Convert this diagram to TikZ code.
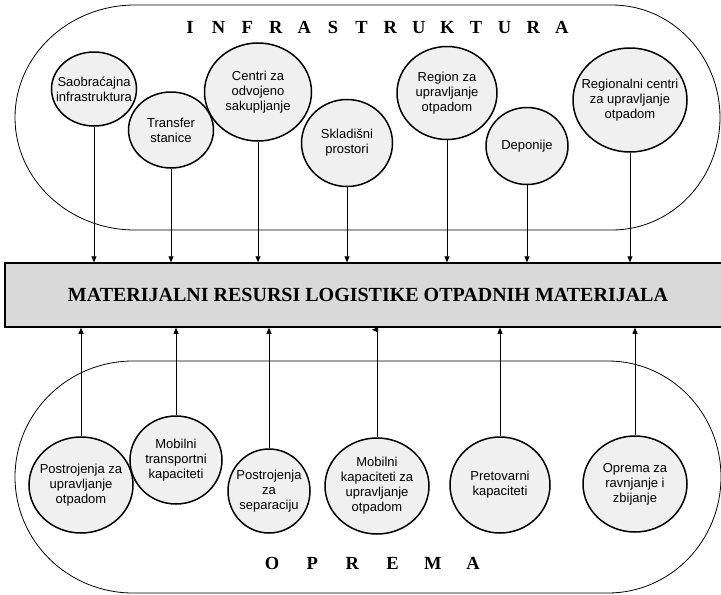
\documentclass[tikz,border=0pt]{standalone}
\usepackage{fontspec}
\setmainfont{Liberation Serif}
\newfontfamily\arialfont{Liberation Sans}
\usetikzlibrary{shapes.geometric, arrows.meta, positioning}
\definecolor{bubblefill}{RGB}{240, 240, 240}
\definecolor{boxfill}{RGB}{217, 217, 217}

\begin{document}
\begin{tikzpicture}[x=1pt, y=-1pt,
    bubble/.style={ellipse, draw, line width=1.5pt, fill=bubblefill, inner sep=0pt},
    lbl/.style={align=center, inner sep=0pt, font=\arialfont\fontsize{13}{15}\selectfont},
    feed/.style={-{Triangle[length=6pt, width=5pt]}, line width=0.8pt},
    spaced/.style={anchor=base, inner sep=0pt, font=\bfseries\fontsize{18.5}{20}\selectfont}]
    \useasboundingbox (0,0) rectangle (721,595);

    % Enclosures
    \draw[line width=0.8pt] (135,5) -- (612,5)
        arc[start angle=-90, end angle=90, x radius=108, y radius=112.5]
        -- (135,230) arc[start angle=90, end angle=270, x radius=120, y radius=112.5] -- cycle;
    \draw[line width=0.8pt] (133,361) -- (608,361)
        arc[start angle=-90, end angle=90, x radius=113, y radius=116]
        -- (133,593) arc[start angle=90, end angle=270, x radius=118, y radius=116] -- cycle;

    % Titles
    \foreach \l [count=\i from 0] in {I,N,F,R,A,S,T,R,U,K,T,U,R,A}
        \node[spaced] (inf\i) at (190+28.6*\i, 33) {\l};
    \foreach \l [count=\i from 0] in {O,P,R,E,M,A}
        \node[spaced] (opr\i) at (272+40.2*\i, 569) {\l};

    % Central box
    \node[draw, line width=1.5pt, fill=boxfill, minimum width=726pt, minimum height=64pt,
        font=\bfseries\fontsize{20}{22}\selectfont] (mat) at (368,295)
        {MATERIJALNI RESURSI LOGISTIKE OTPADNIH MATERIJALA};

    % Infrastructure
    \node[bubble, minimum width=85pt, minimum height=74pt,
        label={[lbl]center:{Saobraćajna\\infrastruktura}}] (t1) at (94,89) {};
    \node[bubble, minimum width=85pt, minimum height=76pt,
        label={[lbl]center:{Transfer\\stanice}}] (t2) at (171,130) {};
    \node[bubble, minimum width=107pt, minimum height=98pt,
        label={[lbl]center:{Centri za\\odvojeno\\sakupljanje}}] (t3) at (258,92) {};
    \node[bubble, minimum width=91pt, minimum height=87pt,
        label={[lbl]center:{Skladišni\\prostori}}] (t4) at (347,143) {};
    \node[bubble, minimum width=100pt, minimum height=93pt,
        label={[lbl]center:{Region za\\upravljanje\\otpadom}}] (t5) at (447,93) {};
    \node[bubble, minimum width=82pt, minimum height=77pt,
        label={[lbl]center:{Deponije}}] (t6) at (527,146) {};
    \node[bubble, minimum width=114pt, minimum height=104pt,
        label={[lbl]center:{Regionalni centri\\za upravljanje\\otpadom}}] (t7) at (630,100) {};

    % Equipment
    \node[bubble, minimum width=104pt, minimum height=96pt,
        label={[lbl]center:{Postrojenja za\\upravljanje\\otpadom}}] (b1) at (81,485) {};
    \node[bubble, minimum width=92pt, minimum height=88pt,
        label={[lbl]center:{Mobilni\\transportni\\kapaciteti}}] (b2) at (176,460) {};
    \node[bubble, minimum width=82pt, minimum height=84pt,
        label={[lbl]center:{Postrojenja\\za\\separaciju}}] (b3) at (269,491) {};
    \node[bubble, minimum width=104pt, minimum height=96pt,
        label={[lbl]center:{Mobilni\\kapaciteti za\\upravljanje\\otpadom}}] (b4) at (377,486) {};
    \node[bubble, minimum width=100pt, minimum height=96pt,
        label={[lbl]center:{Pretovarni\\kapaciteti}}] (b5) at (500,485) {};
    \node[bubble, minimum width=104pt, minimum height=96pt,
        label={[lbl]center:{Oprema za\\ravnjanje i\\zbijanje}}] (b6) at (635,484) {};

    % Connectors
    \foreach \n in {t1,t2,t3,t4,t5,t6,t7}
        \draw[feed] (\n.south) -- (\n.south |- mat.north);
    \foreach \n in {b1,b2,b3,b5,b6}
        \draw[feed] (\n.north) -- (\n.north |- mat.south);
    \draw[feed] (b4.north) -- ([yshift=-2pt]b4.north |- mat.south) -- ++(-5,0);
\end{tikzpicture}
\end{document}
